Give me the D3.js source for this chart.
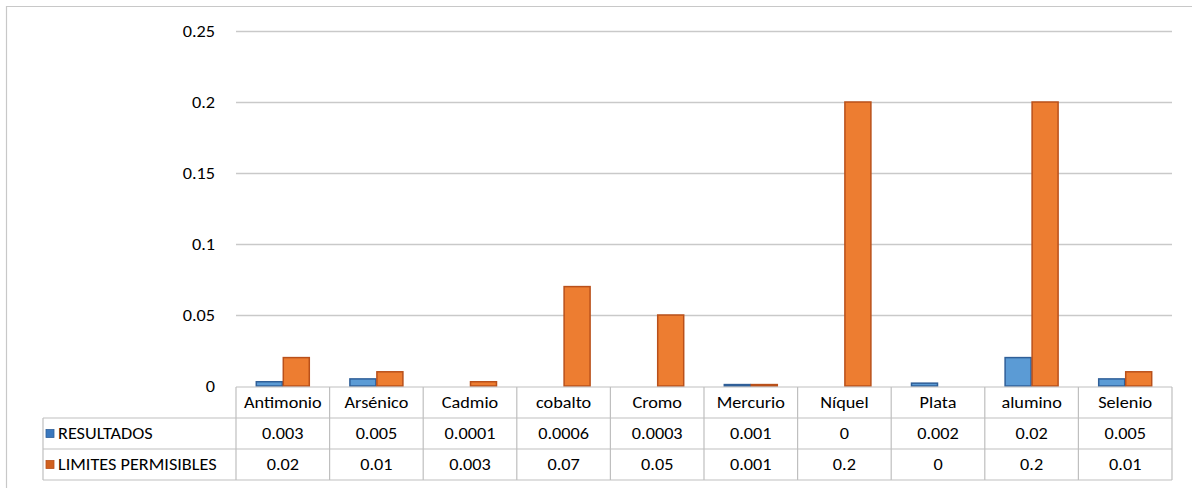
<!DOCTYPE html>
<html>
<head>
<meta charset="utf-8">
<script src="https://cdn.jsdelivr.net/npm/d3@7"></script>
<style>
  html, body { margin: 0; padding: 0; background: #fff; }
  svg { display: block; }
  text { font-family: Carlito, Calibri, Lato, "Open Sans", sans-serif; fill: #000; }
</style>
</head>
<body>
<svg id="chart" width="1192" height="488"></svg>
<script>
// Metal concentrations vs permissible limits
const categories = ["Antimonio", "Arsénico", "Cadmio", "cobalto", "Cromo", "Mercurio", "Níquel", "Plata", "alumino", "Selenio"];
const resultados = [0.003, 0.005, 0.0001, 0.0006, 0.0003, 0.001, 0, 0.002, 0.02, 0.005];
const limites = [0.02, 0.01, 0.003, 0.07, 0.05, 0.001, 0.2, 0, 0.2, 0.01];
const resultadosLabels = ["0.003", "0.005", "0.0001", "0.0006", "0.0003", "0.001", "0", "0.002", "0.02", "0.005"];
const limitesLabels = ["0.02", "0.01", "0.003", "0.07", "0.05", "0.001", "0.2", "0", "0.2", "0.01"];
const yTicks = [0, 0.05, 0.1, 0.15, 0.2, 0.25];
const seriesNames = ["RESULTADOS", "LIMITES PERMISIBLES"];

const series = [
  { name: seriesNames[0], values: resultados, labels: resultadosLabels, fill: "#5B9BD5", stroke: "#2F5F98", key: "#3A78BE" },
  { name: seriesNames[1], values: limites, labels: limitesLabels, fill: "#ED7D31", stroke: "#B9501A", key: "#D0601E" }
];

const FONT = 16, STRETCH = 1.14;
// text helper: glyphs drawn a little wider than the font's natural width
function label(g, x, y, str, anchor) {
  return g.append("text")
    .attr("transform", `translate(${x},${y}) scale(${STRETCH},1)`)
    .attr("dy", "0.35em")
    .attr("text-anchor", anchor)
    .attr("font-size", FONT)
    .text(str);
}

const svg = d3.select("#chart");

// outer frame
svg.append("line").attr("x1", 6).attr("x2", 1192).attr("y1", 6.5).attr("y2", 6.5)
  .attr("stroke", "#C8C8C8").attr("stroke-width", 1.2);
svg.append("line").attr("x1", 6.5).attr("x2", 6.5).attr("y1", 6).attr("y2", 488)
  .attr("stroke", "#C8C8C8").attr("stroke-width", 1.2);

const plotLeft = 236, plotRight = 1172, plotTop = 31, plotBottom = 386;

const x = d3.scaleBand().domain(categories).range([plotLeft, plotRight]).padding(0);
const y = d3.scaleLinear().domain([0, 0.25]).range([plotBottom, plotTop]);

const barW = 27;
const inner = d3.scaleBand().domain(seriesNames)
  .range([x.bandwidth() / 2 - barW, x.bandwidth() / 2 + barW]).padding(0);

// gridlines
svg.append("g").selectAll("line").data(yTicks.filter(d => d > 0)).join("line")
  .attr("x1", plotLeft).attr("x2", plotRight)
  .attr("y1", d => Math.round(y(d)) + 0.5).attr("y2", d => Math.round(y(d)) + 0.5)
  .attr("stroke", "#C9C9C9").attr("stroke-width", 1.6);

// y axis labels
const gy = svg.append("g");
yTicks.forEach(t => label(gy, 215, y(t), d3.format("")(+t.toFixed(2)), "end"));

// bars
series.forEach(s => {
  svg.append("g").selectAll("rect").data(categories).join("rect")
    .attr("x", c => x(c) + inner(s.name) + 0.5)
    .attr("width", inner.bandwidth() - 1)
    .attr("y", (c, i) => y(s.values[i]))
    .attr("height", (c, i) => plotBottom - y(s.values[i]))
    .attr("fill", s.fill)
    .attr("stroke", (c, i) => plotBottom - y(s.values[i]) > 1 ? s.stroke : "none")
    .attr("stroke-width", 1.5)
    .attr("display", (c, i) => plotBottom - y(s.values[i]) > 1 ? null : "none");
});

// data table
const tableTop = 387, headH = 31, rowH = 31;
const legendLeft = 43;
const grid = svg.append("g").attr("stroke", "#BFBFBF").attr("stroke-width", 1.2).attr("fill", "none");
const rowYs = [tableTop, tableTop + headH, tableTop + headH + rowH, tableTop + headH + 2 * rowH];
grid.append("line").attr("x1", plotLeft).attr("x2", plotRight).attr("y1", rowYs[0]).attr("y2", rowYs[0]);
[1, 2, 3].forEach(k => grid.append("line").attr("x1", legendLeft).attr("x2", plotRight)
  .attr("y1", rowYs[k]).attr("y2", rowYs[k]));
grid.append("line").attr("x1", legendLeft).attr("x2", legendLeft).attr("y1", rowYs[1]).attr("y2", rowYs[3]);
grid.selectAll(".vcol").data(categories.concat(["_end"])).join("line")
  .attr("x1", c => c === "_end" ? plotRight : x(c))
  .attr("x2", c => c === "_end" ? plotRight : x(c))
  .attr("y1", rowYs[0]).attr("y2", rowYs[3]);

// category labels
const gc = svg.append("g");
categories.forEach(c => label(gc, x(c) + x.bandwidth() / 2, rowYs[0] + headH / 2, c, "middle"));

// value rows + legend keys
series.forEach((s, k) => {
  const cy = rowYs[k + 1] + rowH / 2;
  const gr = svg.append("g");
  categories.forEach((c, i) => label(gr, x(c) + x.bandwidth() / 2, cy, s.labels[i], "middle"));
  svg.append("rect").attr("x", 46).attr("y", cy - 4).attr("width", 8).attr("height", 8)
    .attr("fill", s.key)
    .attr("stroke", s.stroke).attr("stroke-width", 0.8);
  label(svg, 58, cy, s.name, "start");
});
</script>
</body>
</html>
